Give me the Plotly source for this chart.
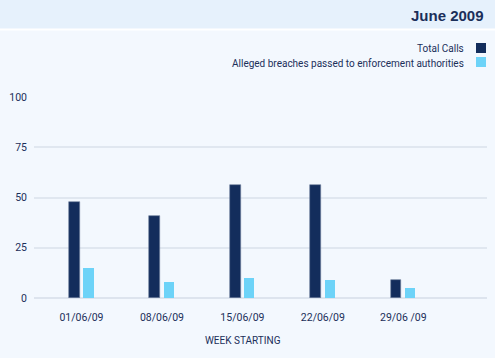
import plotly.graph_objects as go

weeks = ["01/06/09", "08/06/09", "15/06/09", "22/06/09", "29/06 /09"]
total_calls = [48, 41, 56, 56, 9]
alleged_breaches = [15, 8, 10, 9, 5]
series_names = ["Total Calls", "Alleged breaches passed to enforcement authorities"]
title_text = "June 2009"
x_title = "WEEK STARTING"
y_ticks = [0, 25, 50, 75, 100]

DARK = "#132d5c"
LIGHT = "#6dd3f8"
TEXT = "#1b2f5a"
FONT = "Roboto, sans-serif"

W, H = 495, 358
ML, MR, MT, MB = 34, 8, 97, 60
PW = W - ML - MR
PH = H - MT - MB

fig = go.Figure()
fig.add_trace(go.Bar(x=weeks, y=total_calls, name=series_names[0],
                     marker=dict(color=DARK, line=dict(color="#6f7f9c", width=0.6)),
                     width=0.132, offset=-0.155, showlegend=False))
fig.add_trace(go.Bar(x=weeks, y=alleged_breaches, name=series_names[1],
                     marker=dict(color=LIGHT, line=dict(width=0)),
                     width=0.125, offset=0.025, showlegend=False))

def px_x(x):
    return (x - ML) / PW

def px_y(y):
    return (H - MB - y) / PH

shapes = [
    dict(type="rect", xref="paper", yref="paper", x0=px_x(-5), x1=px_x(W + 5),
         y0=px_y(29), y1=px_y(-5), fillcolor="#e6f1fc", line=dict(width=0), layer="below"),
    dict(type="line", xref="paper", yref="paper", x0=px_x(-5), x1=px_x(W + 5),
         y0=px_y(29.5), y1=px_y(29.5), line=dict(color="#ffffff", width=2)),
    # legend swatches
    dict(type="rect", xref="paper", yref="paper", x0=px_x(476), x1=px_x(486),
         y0=px_y(53), y1=px_y(43), fillcolor=DARK, line=dict(width=0)),
    dict(type="rect", xref="paper", yref="paper", x0=px_x(476), x1=px_x(486),
         y0=px_y(67), y1=px_y(57), fillcolor=LIGHT, line=dict(width=0)),
]

annotations = [
    dict(text="<b>" + title_text + "</b>", xref="paper", yref="paper", x=px_x(486), y=px_y(15),
         xanchor="right", yanchor="middle", showarrow=False,
         font=dict(family="Liberation Sans, Arial, sans-serif", size=15, color=TEXT)),
    dict(text=series_names[0], xref="paper", yref="paper", x=px_x(466), y=px_y(49),
         xanchor="right", yanchor="middle", showarrow=False,
         font=dict(family=FONT, size=10, color=TEXT)),
    dict(text=series_names[1], xref="paper", yref="paper", x=px_x(466), y=px_y(63),
         xanchor="right", yanchor="middle", showarrow=False,
         font=dict(family=FONT, size=10, color=TEXT)),
    dict(text=x_title, xref="paper", yref="paper", x=px_x(243), y=px_y(340),
         xanchor="center", yanchor="middle", showarrow=False,
         font=dict(family=FONT, size=10, color=TEXT)),
]

fig.update_layout(
    width=W, height=H,
    margin=dict(l=ML, r=MR, t=MT, b=MB, pad=0),
    paper_bgcolor="#f3f8fe", plot_bgcolor="#f3f8fe",
    shapes=shapes, annotations=annotations,
    showlegend=False,
    xaxis=dict(type="category", range=[-0.59, 5.04], showgrid=False, zeroline=False,
               showline=False, ticks="", ticklabelstandoff=11,
               tickfont=dict(family=FONT, size=10.5, color=TEXT)),
    yaxis=dict(range=[0, 100], tickvals=y_ticks, showgrid=True, gridcolor="#e0e7f0",
               gridwidth=1.5, zeroline=True, zerolinecolor="#dde4ee", zerolinewidth=1.5,
               showline=False, ticks="", ticklabelstandoff=6,
               tickfont=dict(family=FONT, size=10.5, color=TEXT)),
    bargap=0,
)

fig.write_html("out.html", config={"displayModeBar": False},
               post_script="document.body.style.margin='0';document.body.style.overflow='hidden';")
